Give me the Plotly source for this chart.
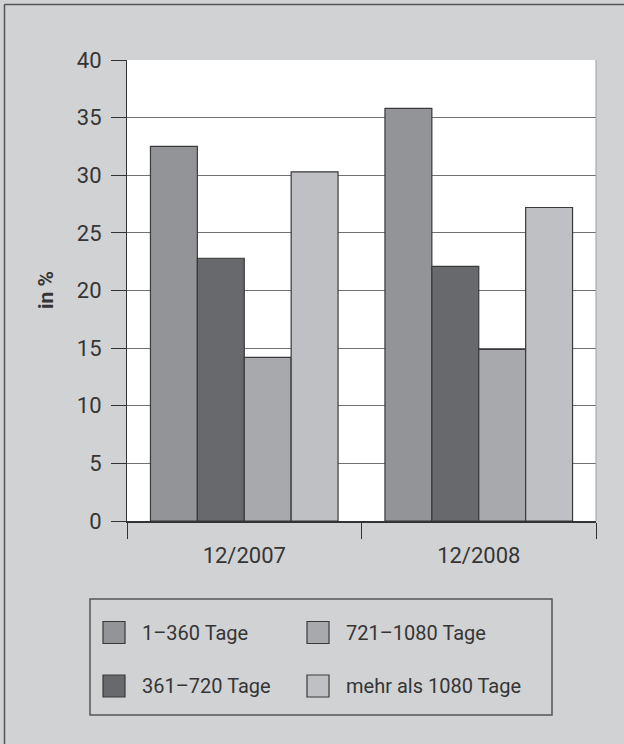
import plotly.graph_objects as go

categories = ["12/2007", "12/2008"]
series_names = ["1–360 Tage", "361–720 Tage", "721–1080 Tage", "mehr als 1080 Tage"]
values_1_360 = [32.5, 35.8]
values_361_720 = [22.8, 22.1]
values_721_1080 = [14.2, 14.9]
values_mehr_1080 = [30.3, 27.2]
series_values = [values_1_360, values_361_720, values_721_1080, values_mehr_1080]
colors = ["#939497", "#68696c", "#a8a9ac", "#bfc0c3"]
y_ticks = [0, 5, 10, 15, 20, 25, 30, 35, 40]

W, H = 624, 744
L, R, T, B = 127, 28, 60, 223
PW, PH = W - L - R, H - T - B


def px(x):
    return (x - L) / PW


def py(y):
    return (H - B - y) / PH


TXT = "#353535"
FONT = "Roboto"

fig = go.Figure()
for name, vals, col in zip(series_names, series_values, colors):
    fig.add_trace(go.Bar(
        x=categories, y=vals, name=name, marker_color=col,
        marker_line_color="#3a3a3a", marker_line_width=1.2,
        showlegend=False,
    ))

shapes = [
    # outer panel border (top/left)
    dict(type="line", xref="paper", yref="paper", x0=px(4.5), x1=px(624), y0=py(4.5), y1=py(4.5),
         line=dict(color="#555555", width=1.5)),
    dict(type="line", xref="paper", yref="paper", x0=px(4.5), x1=px(4.5), y0=py(4.5), y1=py(744),
         line=dict(color="#555555", width=1.5)),
    # right border of plot
    dict(type="line", xref="paper", yref="paper", x0=1, x1=1, y0=0, y1=1,
         line=dict(color="#a0a0a0", width=1)),
    # legend box
    dict(type="rect", xref="paper", yref="paper", x0=px(90), x1=px(552), y0=py(599), y1=py(715),
         line=dict(color="#555555", width=1.5), fillcolor="rgba(0,0,0,0)"),
]
annotations = [
    dict(text="<b>in %</b>", xref="paper", yref="paper", x=px(46), y=py(290),
         textangle=-90, showarrow=False, xanchor="center", yanchor="middle",
         font=dict(family=FONT, size=21, color=TXT)),
]
# manual legend (row-major: 1-360, 721-1080 / 361-720, mehr als)
legend_pos = [(114, 632.5), (318, 632.5), (114, 686), (318, 686)]
legend_order = [0, 2, 1, 3]
for (cx, cy), idx in zip(legend_pos, legend_order):
    shapes.append(dict(type="rect", xref="paper", yref="paper",
                       x0=px(cx - 11), x1=px(cx + 11), y0=py(cy + 11), y1=py(cy - 11),
                       fillcolor=colors[idx], line=dict(color="#3a3a3a", width=1.2)))
    annotations.append(dict(text=series_names[idx], xref="paper", yref="paper",
                            x=px(cx + 26), y=py(cy), xanchor="left", yanchor="middle",
                            showarrow=False, font=dict(family=FONT, size=20, color=TXT)))

fig.update_layout(
    width=W, height=H,
    margin=dict(l=L, r=R, t=T, b=B, pad=0),
    paper_bgcolor="#d1d2d4", plot_bgcolor="#ffffff",
    barmode="group", bargap=0.2, bargroupgap=0,
    font=dict(family=FONT, size=21, color=TXT),
    shapes=shapes, annotations=annotations,
    showlegend=False,
)
fig.update_xaxes(
    type="category", tickson="boundaries", ticks="outside", ticklen=16,
    tickcolor="#333333", tickwidth=1.2, showline=True, linecolor="#333333", linewidth=2,
    showgrid=False, ticklabelstandoff=14, tickfont=dict(family=FONT, size=22, color=TXT),
)
fig.update_yaxes(
    range=[0, 40], tickvals=y_ticks, ticks="outside", ticklen=15,
    tickcolor="#333333", tickwidth=1.2, showline=True, linecolor="#333333", linewidth=1.2,
    showgrid=True, gridcolor="#707070", gridwidth=1.3, zeroline=False,
    ticklabelstandoff=5, tickfont=dict(family=FONT, size=22, color=TXT),
)
fig.write_html("out.html", config={"displayModeBar": False},
               post_script="document.body.style.margin='0px';document.body.style.overflow='hidden';")
